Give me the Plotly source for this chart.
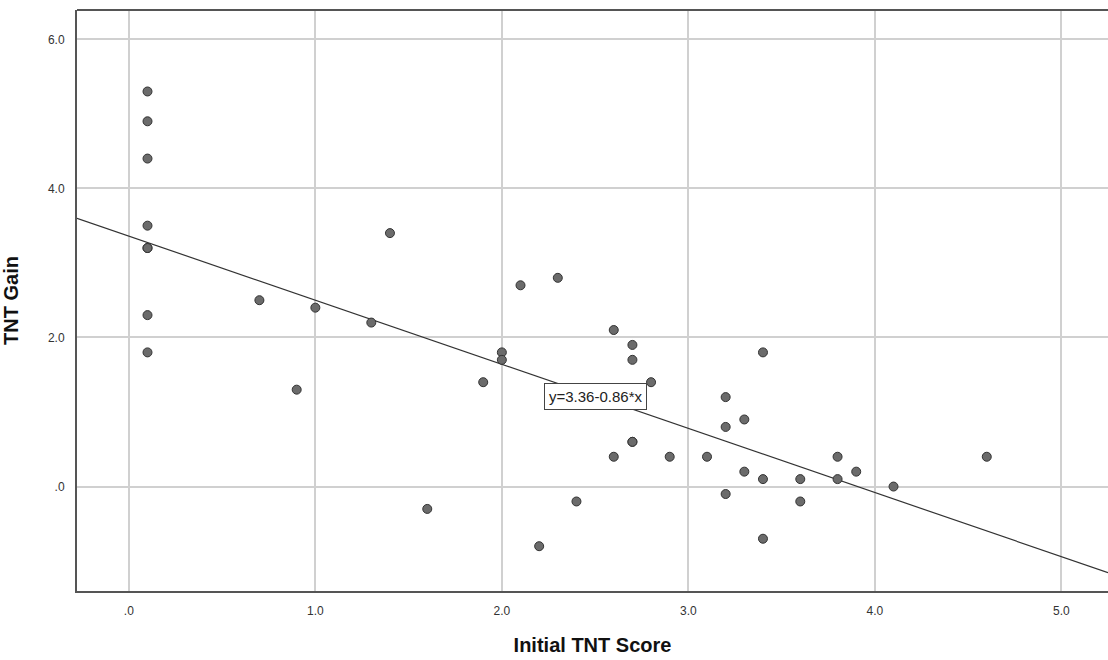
import plotly.graph_objects as go

# Initial TNT score vs. TNT gain, one entry per participant
initial_score = [0.1, 0.1, 0.1, 0.1, 0.1, 0.1, 0.1, 0.1,
                 0.7, 0.9, 1.0, 1.3, 1.4, 1.6, 1.9, 2.0, 2.0,
                 2.1, 2.2, 2.3, 2.4, 2.6, 2.6, 2.7, 2.7, 2.7, 2.7,
                 2.8, 2.9, 3.1, 3.2, 3.2, 3.2, 3.3, 3.3, 3.4, 3.4, 3.4,
                 3.6, 3.6, 3.8, 3.8, 3.9, 4.1, 4.6]
tnt_gain = [5.3, 4.9, 4.4, 3.5, 3.2, 3.2, 2.3, 1.8,
            2.5, 1.3, 2.4, 2.2, 3.4, -0.3, 1.4, 1.8, 1.7,
            2.7, -0.8, 2.8, -0.2, 2.1, 0.4, 1.9, 1.7, 0.6, 0.6,
            1.4, 0.4, 0.4, 1.2, 0.8, -0.1, 0.9, 0.2, 1.8, 0.1, -0.7,
            0.1, -0.2, 0.4, 0.1, 0.2, 0.0, 0.4]

# Linear fit: y = intercept + slope * x
intercept = 3.36
slope = -0.86

x_range = [-0.278, 5.25]
y_range = [-1.401, 6.393]
x_ticks = [0, 1, 2, 3, 4, 5]
x_tick_text = [".0", "1.0", "2.0", "3.0", "4.0", "5.0"]
y_ticks = [0, 2, 4, 6]
y_tick_text = [".0", "2.0", "4.0", "6.0"]

fit_x = x_range
fit_y = [intercept + slope * v for v in fit_x]

fig = go.Figure()

fig.add_trace(go.Scatter(
    x=fit_x, y=fit_y, mode="lines",
    line=dict(color="#333333", width=1.2),
    hoverinfo="skip", showlegend=False,
))

fig.add_trace(go.Scatter(
    x=initial_score, y=tnt_gain, mode="markers",
    marker=dict(size=9, color="#6b6b6b", line=dict(color="#333333", width=1)),
    showlegend=False,
))

fig.add_annotation(
    x=2.5, y=1.21, xref="x", yref="y",
    text=f"y={intercept:.2f}{slope:+.2f}*x",
    showarrow=False,
    font=dict(family="Liberation Sans, Arial, sans-serif", size=15, color="#222222"),
    bgcolor="white", bordercolor="#444444", borderwidth=1, borderpad=4,
)

# Top frame edge (right edge runs past the visible area)
fig.add_shape(type="line", xref="paper", yref="paper",
              x0=0, x1=1, y0=1, y1=1,
              line=dict(color="#555555", width=2))

axis_font = dict(family="Liberation Sans, Arial, sans-serif", size=12, color="#333333")
title_font = dict(family="Liberation Sans, Arial, sans-serif", size=20, color="#111111")

fig.update_xaxes(
    range=x_range, tickvals=x_ticks, ticktext=x_tick_text,
    showgrid=True, gridcolor="#d0d0d0", gridwidth=1.5,
    zeroline=False, showline=True, linecolor="#555555", linewidth=2,
    ticks="", tickfont=axis_font, ticklabelstandoff=8,
    title=dict(text="<b>Initial TNT Score</b>", font=title_font, standoff=21),
)
fig.update_yaxes(
    range=y_range, tickvals=y_ticks, ticktext=y_tick_text,
    showgrid=True, gridcolor="#d0d0d0", gridwidth=1.5,
    zeroline=False, showline=True, linecolor="#555555", linewidth=2,
    ticks="", tickfont=axis_font, ticklabelstandoff=8,
    title=dict(text="<b>TNT Gain</b>", font=title_font, standoff=24),
)

fig.update_layout(
    width=1108, height=660,
    margin=dict(l=77, r=0, t=10, b=69),
    paper_bgcolor="white", plot_bgcolor="white",
)

fig.write_html("out.html")
